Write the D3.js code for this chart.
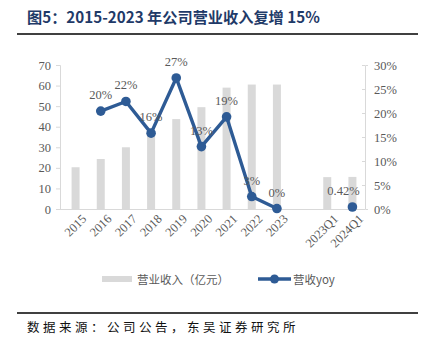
<!DOCTYPE html>
<html><head><meta charset="utf-8">
<script src="https://cdn.jsdelivr.net/npm/d3@7"></script>
<style>body{margin:0;background:#fff}svg{display:block}</style>
</head><body>
<script>
const categories = ["2015","2016","2017","2018","2019","2020","2021","2022","2023","","2023Q1","2024Q1"];
const revenue = [20.3, 24.3, 30.0, 36.0, 43.7, 49.5, 59.0, 60.5, 60.5, null, 15.5, 15.6];
const yoy = [null, 20.4, 22.4, 15.8, 27.3, 13.0, 19.2, 2.6, 0.1, null, null, 0.42];
const yoyLabels = [null, "20%", "22%", "16%", "27%", "13%", "19%", "3%", "0%", null, null, "0.42%"];
const leftTicks = [0,10,20,30,40,50,60,70];
const rightTicks = [0,5,10,15,20,25,30];

const W=423,H=349;
const svg=d3.select("body").append("svg").attr("width",W).attr("height",H);
const serif="'Liberation Serif','Times New Roman',serif";
const cjk="'Noto Sans CJK SC',sans-serif";

svg.append("text").attr("x",27).attr("y",23).attr("font-family",cjk).attr("font-weight","bold")
  .attr("font-size",15.2).attr("fill","#1f3a68").text("图5：2015-2023 年公司营业收入复增 15%");
svg.append("line").attr("x1",17).attr("x2",418).attr("y1",34).attr("y2",34).attr("stroke","#000").attr("stroke-width",1.5);

const x=d3.scaleBand().domain(categories.map((c,i)=>i)).range([63,365]);
const yL=d3.scaleLinear().domain([0,70]).range([209,65]);
const yR=d3.scaleLinear().domain([0,30]).range([209,65]);
const gray="#595959", axisC="#d9d9d9";

const gl=svg.append("g").attr("transform","translate(60,0)")
  .call(d3.axisLeft(yL).tickValues(leftTicks).tickSize(4).tickPadding(5));
const gr=svg.append("g").attr("transform","translate(365,0)")
  .call(d3.axisRight(yR).tickValues(rightTicks).tickFormat(d=>d+"%").tickSize(3).tickPadding(6));
[gl,gr].forEach(g=>{g.select(".domain").attr("stroke",axisC);g.selectAll(".tick line").attr("stroke",axisC);
  g.selectAll("text").attr("font-family",serif).attr("font-size",12.5).attr("fill",gray);});
gr.selectAll(".tick line").attr("x2",-3);

const gb=svg.append("g").attr("transform","translate(0,209)")
  .call(d3.axisBottom(x).tickFormat(i=>categories[i]).tickSize(0).tickPadding(6));
gb.select(".domain").attr("stroke",axisC).attr("d","M60,0.5H365");
gb.selectAll(".tick text").attr("font-family",serif).attr("font-size",12.5).attr("fill",gray)
  .attr("text-anchor","end").attr("transform","translate(3,2) rotate(-45)").attr("dy","0.5em");

svg.append("g").selectAll("rect").data(revenue.map((v,i)=>({v,i})).filter(d=>d.v!=null)).join("rect")
  .attr("x",d=>x(d.i)+x.bandwidth()/2-4).attr("width",8)
  .attr("y",d=>yL(d.v)).attr("height",d=>yL(0)-yL(d.v)).attr("fill","#d9d9d9");

const blue="#2e5b95";
const line=d3.line().defined(d=>d.v!=null).x(d=>x(d.i)+x.bandwidth()/2).y(d=>yR(d.v));
const pts=yoy.map((v,i)=>({v,i}));
svg.append("path").datum(pts.slice(0,9)).attr("d",line).attr("fill","none").attr("stroke",blue).attr("stroke-width",3.4).attr("stroke-linejoin","round");
svg.append("g").selectAll("circle").data(pts.filter(d=>d.v!=null)).join("circle")
  .attr("cx",d=>x(d.i)+x.bandwidth()/2).attr("cy",d=>yR(d.v)).attr("r",4.8).attr("fill",blue);
svg.append("g").selectAll("text").data(pts.filter(d=>yoyLabels[d.i])).join("text")
  .attr("x",d=>x(d.i)+x.bandwidth()/2-(d.i===11?9:0)).attr("y",d=>yR(d.v)-12)
  .attr("text-anchor","middle").attr("font-family",serif).attr("font-size",12.5).attr("fill",gray)
  .text(d=>yoyLabels[d.i]);

svg.append("rect").attr("x",102).attr("y",276).attr("width",30).attr("height",6).attr("fill","#d9d9d9");
svg.append("text").attr("x",137).attr("y",283.5).attr("font-family",cjk).attr("font-size",11.5).attr("fill",gray).text("营业收入（亿元）");
svg.append("line").attr("x1",258).attr("x2",291).attr("y1",279).attr("y2",279).attr("stroke",blue).attr("stroke-width",3.4);
svg.append("circle").attr("cx",274.5).attr("cy",279).attr("r",4.5).attr("fill",blue);
svg.append("text").attr("x",293).attr("y",283.5).attr("font-family",cjk).attr("font-size",11.5).attr("fill",gray).text("营收yoy");

svg.append("line").attr("x1",17).attr("x2",418).attr("y1",313).attr("y2",313).attr("stroke","#000").attr("stroke-width",1.5);
svg.append("text").attr("x",27).attr("y",332).attr("font-family",cjk).attr("font-size",12.5).attr("letter-spacing",3.5).attr("fill","#111").text("数据来源：公司公告，东吴证券研究所");
</script>
</body></html>
